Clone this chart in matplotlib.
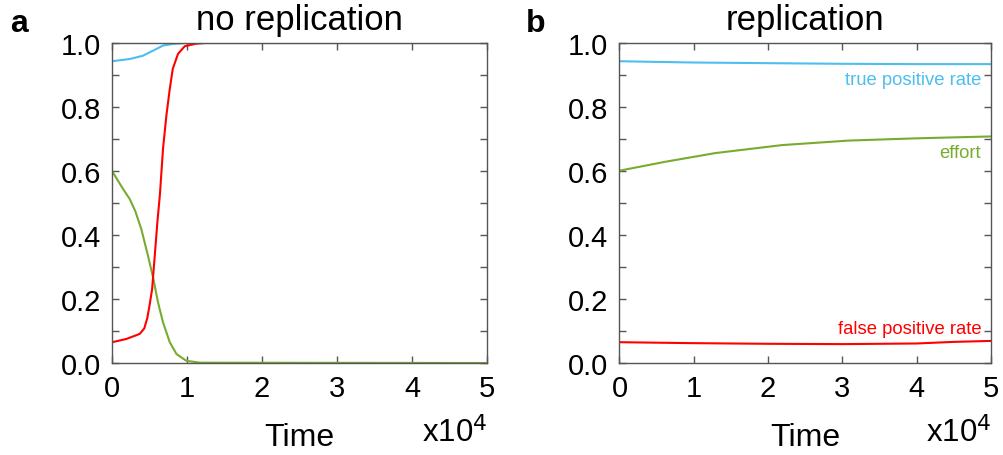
import numpy as np
import matplotlib
matplotlib.use("Agg")
import matplotlib.pyplot as plt
from matplotlib.ticker import MultipleLocator

plt.rcParams["font.family"] = ["Liberation Sans", "DejaVu Sans"]

# colours (MATLAB-like)
BLUE = "#4DBEEE"
GREEN = "#77AC30"
RED = "#FF0000"

# panel a: no replication (time in units of 1e4)
a_tpr_t = [0, 0.236, 0.41, 0.547, 0.68, 0.81, 0.99, 5]
a_tpr_v = [0.943, 0.95, 0.96, 0.976, 0.992, 0.997, 1.0, 1.0]
a_fpr_t = [0, 0.19, 0.37, 0.43, 0.47, 0.50, 0.535, 0.57, 0.605, 0.64, 0.68,
           0.725, 0.77, 0.81, 0.88, 0.97, 1.125, 1.24, 5]
a_fpr_v = [0.065, 0.075, 0.091, 0.108, 0.14, 0.179, 0.231, 0.335, 0.44, 0.53,
           0.669, 0.773, 0.856, 0.919, 0.966, 0.99, 0.998, 1.0, 1.0]
a_eff_t = [0, 0.147, 0.236, 0.31, 0.39, 0.48, 0.547, 0.613, 0.68, 0.77, 0.86,
           0.99, 1.17, 5]
a_eff_v = [0.6, 0.544, 0.5125, 0.475, 0.419, 0.335, 0.268, 0.19, 0.127, 0.065,
           0.028, 0.007, 0.001, 0.0]

# panel b: replication
b_tpr_t = [0, 1, 2, 3, 4, 5]
b_tpr_v = [0.943, 0.939, 0.937, 0.935, 0.934, 0.934]
b_eff_t = [0, 0.62, 1.29, 2.19, 3.08, 3.98, 5]
b_eff_v = [0.601, 0.629, 0.656, 0.681, 0.695, 0.702, 0.708]
b_fpr_t = [0, 1, 2, 3, 4, 4.5, 5]
b_fpr_v = [0.065, 0.062, 0.060, 0.059, 0.061, 0.066, 0.069]

x_ticks = [0, 1, 2, 3, 4, 5]
y_ticks = [0.0, 0.2, 0.4, 0.6, 0.8, 1.0]

FS = 21
SPINE = "#555555"

fig = plt.figure(figsize=(10.04, 4.56), dpi=100)
ax_a = fig.add_axes([112 / 1004, 92 / 456, 375 / 1004, 320 / 456])
ax_b = fig.add_axes([619.5 / 1004, 92 / 456, 371.5 / 1004, 320 / 456])


def style_axes(ax, title):
    ax.set_xlim(0, 5)
    ax.set_ylim(0, 1)
    ax.set_xticks(x_ticks)
    ax.set_yticks(y_ticks)
    ax.set_yticklabels([f"{v:.1f}" for v in y_ticks])
    ax.yaxis.set_minor_locator(MultipleLocator(0.1))
    ax.tick_params(which="both", direction="in", top=True, right=True,
                   color=SPINE, width=1.0)
    ax.tick_params(which="major", length=5, labelsize=FS, pad=8)
    ax.tick_params(which="minor", length=5)
    for s in ax.spines.values():
        s.set_color(SPINE)
        s.set_linewidth(1.0)
    ax.set_title(title, fontsize=25, pad=10)
    ax.set_xlabel("Time", fontsize=23, labelpad=14)
    ax.text(1.0, -0.215, r"x10$^4$", transform=ax.transAxes, ha="right",
            va="center", fontsize=22.5)


lw = 1.5
ax_a.plot(a_tpr_t, a_tpr_v, color=BLUE, lw=lw)
ax_a.plot(a_eff_t, a_eff_v, color=GREEN, lw=lw)
ax_a.plot(a_fpr_t, a_fpr_v, color=RED, lw=lw)
style_axes(ax_a, "no replication")

ax_b.plot(b_tpr_t, b_tpr_v, color=BLUE, lw=lw)
ax_b.plot(b_eff_t, b_eff_v, color=GREEN, lw=lw)
ax_b.plot(b_fpr_t, b_fpr_v, color=RED, lw=lw)
style_axes(ax_b, "replication")

lab_fs = 13.3
ax_b.text(4.87, 0.887, "true positive rate", color=BLUE, fontsize=lab_fs, ha="right", va="center")
ax_b.text(4.87, 0.659, "effort", color=GREEN, fontsize=lab_fs, ha="right", va="center")
ax_b.text(4.87, 0.107, "false positive rate", color=RED, fontsize=lab_fs, ha="right", va="center")

fig.text(10 / 1004, 1 - 24 / 456, "a", fontsize=23, fontweight="bold", va="center")
fig.text(526 / 1004, 1 - 24 / 456, "b", fontsize=23, fontweight="bold", va="center")

fig.savefig("out.png", dpi=100)
